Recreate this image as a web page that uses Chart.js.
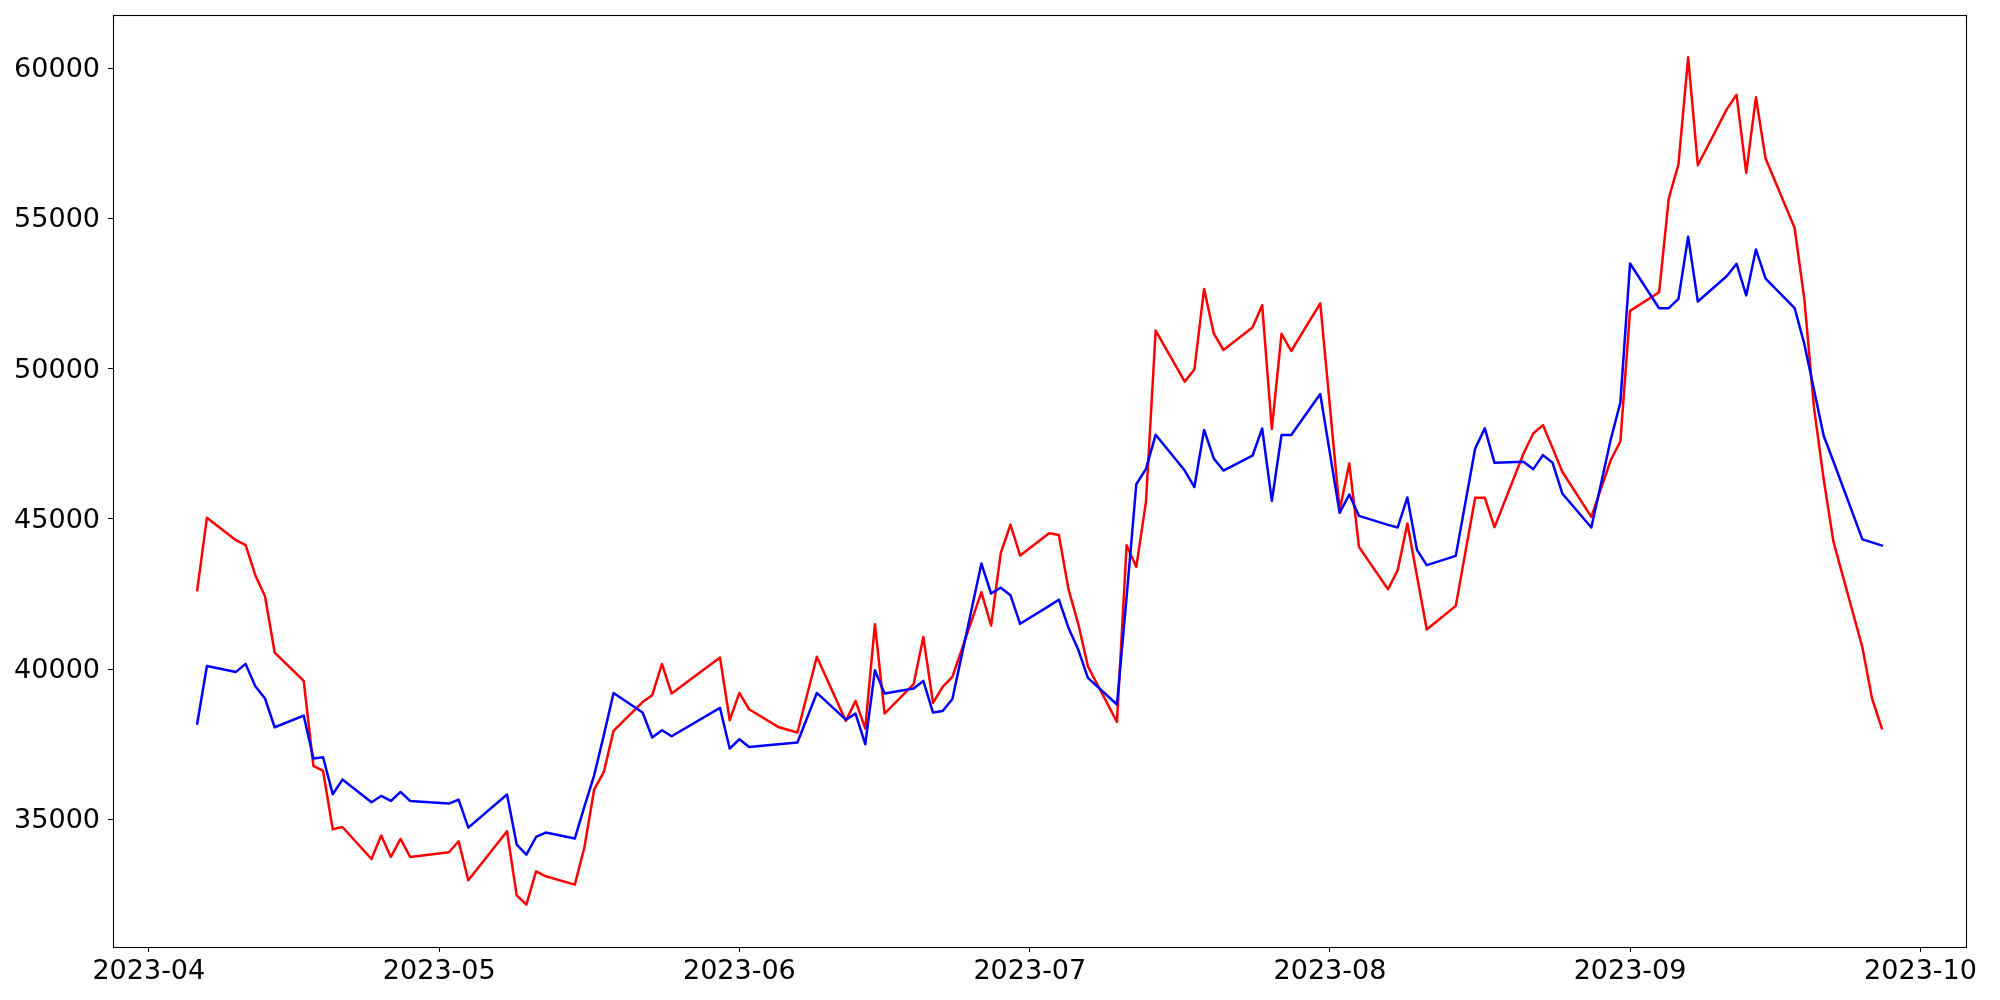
<!DOCTYPE html>
<html>
<head>
<meta charset="utf-8">
<script src="https://cdn.jsdelivr.net/npm/chart.js@4.4.0/dist/chart.umd.min.js"></script>
<style>
  html, body { margin: 0; padding: 0; background: #fff; }
  canvas { display: block; }
</style>
</head>
<body>
<canvas id="priceChart" width="2000" height="1000"></canvas>
<script>
// trading days
const dates = [
  '2023-04-06','2023-04-07','2023-04-10','2023-04-11','2023-04-12','2023-04-13','2023-04-14',
  '2023-04-17','2023-04-18','2023-04-19','2023-04-20','2023-04-21','2023-04-24','2023-04-25',
  '2023-04-26','2023-04-27','2023-04-28','2023-05-02','2023-05-03','2023-05-04','2023-05-08',
  '2023-05-09','2023-05-10','2023-05-11','2023-05-12','2023-05-15','2023-05-16','2023-05-17',
  '2023-05-18','2023-05-19','2023-05-22','2023-05-23','2023-05-24','2023-05-25','2023-05-30',
  '2023-05-31','2023-06-01','2023-06-02','2023-06-05','2023-06-07','2023-06-09','2023-06-12',
  '2023-06-13','2023-06-14','2023-06-15','2023-06-16','2023-06-19','2023-06-20','2023-06-21',
  '2023-06-22','2023-06-23','2023-06-26','2023-06-27','2023-06-28','2023-06-29','2023-06-30',
  '2023-07-03','2023-07-04','2023-07-05','2023-07-06','2023-07-07','2023-07-10','2023-07-11',
  '2023-07-12','2023-07-13','2023-07-14','2023-07-17','2023-07-18','2023-07-19','2023-07-20',
  '2023-07-21','2023-07-24','2023-07-25','2023-07-26','2023-07-27','2023-07-28','2023-07-31',
  '2023-08-02','2023-08-03','2023-08-04','2023-08-07','2023-08-08','2023-08-09','2023-08-10',
  '2023-08-11','2023-08-14','2023-08-16','2023-08-17','2023-08-18','2023-08-21','2023-08-22',
  '2023-08-23','2023-08-24','2023-08-25','2023-08-28','2023-08-30','2023-08-31','2023-09-01',
  '2023-09-04','2023-09-05','2023-09-06','2023-09-07','2023-09-08','2023-09-11','2023-09-12',
  '2023-09-13','2023-09-14','2023-09-15','2023-09-18','2023-09-19','2023-09-20','2023-09-21',
  '2023-09-22','2023-09-25','2023-09-26','2023-09-27'
];

const redValues = [
  42624, 45032, 44289, 44123, 43124, 42424, 40549,
  39604, 36773, 36607, 34665, 34742, 33676, 34455,
  33743, 34343, 33743, 33900, 34266, 32967, 34599,
  32467, 32157, 33267, 33101, 32824, 34076, 35987,
  36574, 37940, 38900, 39128, 40170, 39183, 40382,
  38295, 39204, 38661, 38072, 37885, 40409, 38273,
  38938, 38017, 41492, 38517, 39494, 41069, 38871,
  39405, 39737, 42561, 41449, 43856, 44808, 43776,
  44521, 44462, 42651, 41505, 40090, 38236, 44120,
  43398, 45570, 51267, 49567, 49967, 52651, 51172,
  50619, 51365, 52111, 47982, 51159, 50586, 52171,
  45288, 46843, 44066, 42657, 43290, 44845, 43080,
  41315, 42102, 45698, 45698, 44722, 47176, 47842,
  48119, 47353, 46565, 45065, 46950, 47580, 51920,
  52540, 55664, 56803, 60360, 56770, 58638, 59114,
  56514, 59031, 56990, 54679, 52318, 48698, 46321,
  44249, 40716, 39014, 38029
];

const blueValues = [
  38185, 40103, 39904, 40170, 39427, 39018, 38062,
  38451, 37019, 37063, 35831, 36320, 35564, 35774,
  35608, 35908, 35608, 35520, 35654, 34722, 35821,
  34156, 33823, 34409, 34556, 34356, 35425, 36463,
  37800, 39204, 38551, 37719, 37961, 37762, 38704,
  37353, 37662, 37406, 37496, 37552, 39204, 38317,
  38517, 37496, 39960, 39183, 39350, 39604, 38551,
  38605, 39004, 43510, 42514, 42707, 42458, 41505,
  42101, 42308, 41369, 40646, 39705, 38820, 42400,
  46150, 46660, 47800, 46607, 46057, 47959, 47010,
  46607, 47100, 48005, 45598, 47789, 47789, 49153,
  45198, 45810, 45098, 44799, 44711, 45711, 43956,
  43457, 43766, 47343, 48009, 46863, 46897, 46653,
  47120, 46863, 45844, 44711, 47630, 48873, 53497,
  52008, 52011, 52318, 54392, 52234, 53084, 53490,
  52437, 53966, 52997, 52011, 50822, 49294, 47765,
  46916, 44316, 44216, 44113
];

const xTickLabels = ['2023-04', '2023-05', '2023-06', '2023-07', '2023-08', '2023-09', '2023-10'];
const yTickValues = [35000, 40000, 45000, 50000, 55000, 60000];

// day number from 'YYYY-MM-DD' or 'YYYY-MM'
function toDay(s) {
  const parts = s.split('-').map(Number);
  return Date.UTC(parts[0], parts[1] - 1, parts[2] || 1) / 86400000;
}

function dayToLabel(v) {
  const d = new Date(Math.round(v) * 86400000);
  return d.getUTCFullYear() + '-' + String(d.getUTCMonth() + 1).padStart(2, '0');
}

const xs = dates.map(toDay);
const xMinData = Math.min(...xs), xMaxData = Math.max(...xs);
const xPad = (xMaxData - xMinData) * 0.05;
const allY = redValues.concat(blueValues);
const yMinData = Math.min(...allY), yMaxData = Math.max(...allY);
const yPad = (yMaxData - yMinData) * 0.05;

const tickFont = { family: '"DejaVu Sans", sans-serif', size: 27 };

// full box round the plot, like the matplotlib spines
const frame = {
  id: 'frame',
  afterDraw(chart) {
    const a = chart.chartArea;
    const c = chart.ctx;
    c.save();
    c.strokeStyle = '#000';
    c.lineWidth = 1.1;
    c.strokeRect(Math.round(a.left) + 0.5, Math.round(a.top) + 0.5,
      Math.round(a.right - a.left), Math.round(a.bottom - a.top));
    c.restore();
  }
};

const lineStyle = {
  borderWidth: 2.5,
  borderJoinStyle: 'round',
  borderCapStyle: 'square',
  pointRadius: 0,
  fill: false
};

const chartConfig = {
  type: 'line',
  data: {
    datasets: [Object.assign({
      label: 'red',
      data: xs.map((x, i) => ({ x: x, y: redValues[i] })),
      borderColor: '#ff0000',
      order: 1
    }, lineStyle), Object.assign({
      label: 'blue',
      data: xs.map((x, i) => ({ x: x, y: blueValues[i] })),
      borderColor: '#0000ff',
      order: 0
    }, lineStyle)]
  },
  options: {
    responsive: false,
    animation: false,
    devicePixelRatio: 1,
    layout: { padding: { top: 15, right: 34, left: 0, bottom: 0 } },
    plugins: {
      legend: { display: false },
      tooltip: { enabled: false }
    },
    scales: {
      x: {
        type: 'linear',
        min: xMinData - xPad,
        max: xMaxData + xPad,
        border: { display: false },
        grid: { drawOnChartArea: false, drawTicks: true, tickLength: 5, color: '#000', lineWidth: 1 },
        ticks: {
          color: '#000',
          font: tickFont,
          padding: 4,
          maxRotation: 0,
          autoSkip: false,
          callback: (v) => dayToLabel(v)
        },
        afterBuildTicks: (scale) => {
          scale.ticks = xTickLabels.map(l => ({ value: toDay(l) }));
        },
        afterFit: (scale) => {
          scale.height = 53;
          scale.paddingLeft = 0;
          scale.paddingRight = 0;
        }
      },
      y: {
        min: yMinData - yPad,
        max: yMaxData + yPad,
        border: { display: false },
        grid: { drawOnChartArea: false, drawTicks: true, tickLength: 5, color: '#000', lineWidth: 1 },
        ticks: {
          color: '#000',
          font: tickFont,
          padding: 8,
          labelOffset: 2,
          callback: (v) => String(v)
        },
        afterBuildTicks: (scale) => {
          scale.ticks = yTickValues.map(v => ({ value: v }));
        },
        afterFit: (scale) => {
          scale.width = 113;
          scale.paddingTop = 0;
          scale.paddingBottom = 0;
        }
      }
    }
  },
  plugins: [frame]
};

const ctx = document.getElementById('priceChart').getContext('2d');
const myChart = new Chart(ctx, chartConfig);
</script>
</body>
</html>
